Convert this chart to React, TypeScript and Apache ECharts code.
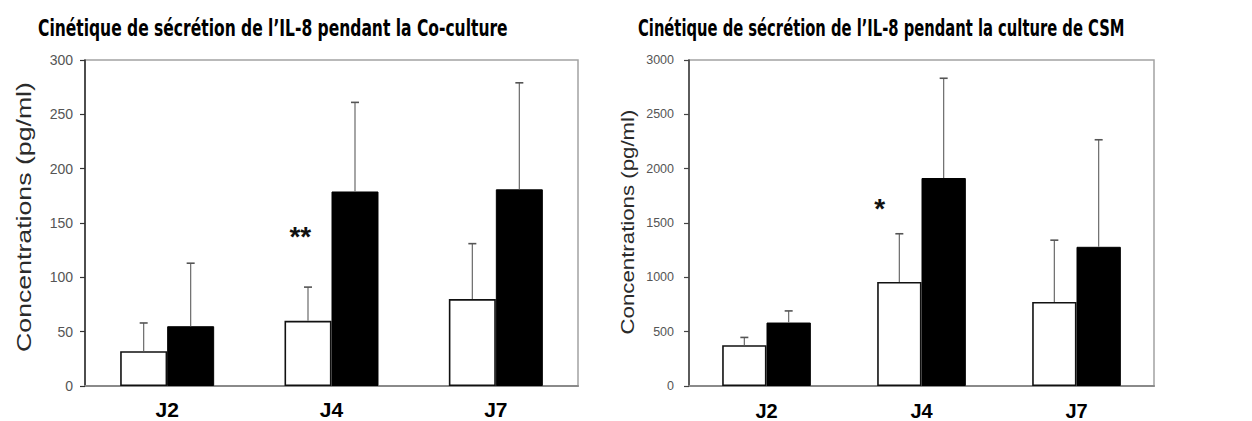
import React, { useEffect, useRef } from "react";
import * as echarts from "echarts";

const categories = ["J2", "J4", "J7"];

// Co-culture (pg/ml)
const coWhite = [32, 60, 80];
const coWhiteSD = [26, 31, 51];
const coBlack = [55, 179, 181];
const coBlackSD = [58, 82, 98];

// CSM culture (pg/ml)
const csmWhite = [376, 957, 773];
const csmWhiteSD = [71, 444, 569];
const csmBlack = [584, 1914, 1281];
const csmBlackSD = [107, 918, 985];

const leftTicks = { min: 0, max: 300, interval: 50 };
const rightTicks = { min: 0, max: 3000, interval: 500 };

const titleLeft = "Cinétique de sécrétion de l’IL-8 pendant la Co-culture";
const titleRight = "Cinétique de sécrétion de l’IL-8 pendant la culture de CSM";
const yName = "Concentrations (pg/ml)";

// significance marks: [category index, value level, text]
const leftMarks: [number, number, string][] = [[1, 142, "**"]];
const rightMarks: [number, number, string][] = [[1, 1680, "*"]];

const BAR_FRAC = 0.286;

function measure(text: string, font: string) {
  const c = document.createElement("canvas");
  const ctx = c.getContext("2d")!;
  ctx.font = font;
  return ctx.measureText(text).width;
}

function errData(vals: number[], sds: number[], side: number) {
  return vals.map((v, i) => [i, v, v + sds[i], side]);
}

function errRender(params: any, api: any) {
  const idx = api.value(0);
  const val = api.value(1);
  const top = api.value(2);
  const side = api.value(3);
  const catW = api.size([1, 0])[0];
  const bw = catW * BAR_FRAC;
  const base = api.coord([idx, val]);
  const x = base[0] + (side === 0 ? -bw / 2 : bw / 2);
  const yTop = api.coord([idx, top])[1];
  return {
    type: "group",
    children: [
      { type: "line", shape: { x1: x, y1: base[1], x2: x, y2: yTop }, style: { stroke: "#6a6a6a", lineWidth: 1.2 } },
      { type: "line", shape: { x1: x - 4, y1: yTop, x2: x + 4, y2: yTop }, style: { stroke: "#555", lineWidth: 1.6 } },
    ],
  };
}

function markRender(dxFrac: number, fontSize: number) {
  return (params: any, api: any) => {
    const idx = api.value(0);
    const val = api.value(1);
    const catW = api.size([1, 0])[0];
    const p = api.coord([idx, val]);
    return {
      type: "text",
      x: p[0] + dxFrac * catW,
      y: p[1] + fontSize * 0.18,
      style: {
        text: api.value(2) === 2 ? "**" : "*",
        fill: "#111",
        font: `bold ${fontSize}px 'Liberation Sans', Arial, sans-serif`,
        align: "center",
        verticalAlign: "middle",
      },
    };
  };
}

function buildAxis(gridIndex: number, ticks: { min: number; max: number; interval: number }, fontSize: number, lineColor: string) {
  return {
    type: "value",
    gridIndex,
    min: ticks.min,
    max: ticks.max,
    interval: ticks.interval,
    splitLine: { show: false },
    axisLine: { show: true, lineStyle: { color: lineColor, width: 1.6 } },
    axisTick: { show: true, inside: false, length: 5, lineStyle: { color: lineColor, width: 1.2 } },
    axisLabel: {
      color: "#555",
      fontSize,
      fontFamily: "'Liberation Sans', Arial, sans-serif",
      margin: gridIndex === 0 ? 12 : 15,
      formatter: (v: number) => String(v),
    },
  };
}

function buildX(gridIndex: number, fontSize: number, margin: number) {
  return {
    type: "category",
    gridIndex,
    data: categories,
    axisLine: { show: true, lineStyle: { color: "#8a8a8a", width: 2 } },
    axisTick: { show: false },
    axisLabel: {
      color: "#000",
      fontWeight: "bold",
      fontSize,
      fontFamily: "'Liberation Sans', Arial, sans-serif",
      margin,
    },
  };
}

export default function App() {
  const ref = useRef<HTMLDivElement>(null);
  useEffect(() => {
    if (!ref.current) return;
    const chart = echarts.init(ref.current, null, { renderer: "svg" });

    const titleFont = "bold 18px 'DejaVu Sans', Verdana, sans-serif";
    const tW = measure(titleLeft, titleFont);
    const tWR = measure(titleRight, titleFont);
    const nameFontL = "21px 'Liberation Sans', Arial, sans-serif";
    const nameFontR = "18px 'Liberation Sans', Arial, sans-serif";
    const nWL = measure(yName, nameFontL);
    const nWR = measure(yName, nameFontR);

    const whiteStyle = { color: "#fff", borderColor: "#111", borderWidth: 1.6 };
    const blackStyle = { color: "#000", borderColor: "#000", borderWidth: 1 };

    const mkMarkData = (marks: [number, number, string][]) => marks.map((m) => [m[0], m[1], m[2].length]);

    chart.setOption({
      animation: false,
      backgroundColor: "#fff",
      grid: [
        { left: 85, top: 60, width: 493, height: 326, show: true, borderColor: "#a3a3a3", borderWidth: 1.5, backgroundColor: "transparent" },
        { left: 689, top: 60, width: 465, height: 327, show: true, borderColor: "#a3a3a3", borderWidth: 1.5, backgroundColor: "transparent" },
      ],
      xAxis: [buildX(0, 21, 13), buildX(1, 20, 15)],
      yAxis: [buildAxis(0, leftTicks, 14, "#333"), buildAxis(1, rightTicks, 12.5, "#444")],
      graphic: [
        {
          type: "text",
          x: 38,
          y: 28,
          scaleX: 470 / tW,
          scaleY: 1.28,
          style: { text: titleLeft, font: titleFont, fill: "#000", align: "left", verticalAlign: "middle" },
        },
        {
          type: "text",
          x: 638,
          y: 28,
          scaleX: 487 / tWR,
          scaleY: 1.28,
          style: { text: titleRight, font: titleFont, fill: "#000", align: "left", verticalAlign: "middle" },
        },
        {
          type: "text",
          x: 24,
          y: 217,
          rotation: Math.PI / 2,
          scaleX: 270 / nWL,
          style: { text: yName, font: nameFontL, fill: "#2a2a2a", align: "center", verticalAlign: "middle" },
        },
        {
          type: "text",
          x: 628,
          y: 222,
          rotation: Math.PI / 2,
          scaleX: 225 / nWR,
          style: { text: yName, font: nameFontR, fill: "#2a2a2a", align: "center", verticalAlign: "middle" },
        },
      ],
      series: [
        { type: "bar", xAxisIndex: 0, yAxisIndex: 0, data: coWhite, barWidth: "28.6%", barGap: "0%", itemStyle: whiteStyle },
        { type: "bar", xAxisIndex: 0, yAxisIndex: 0, data: coBlack, barWidth: "28.6%", barGap: "0%", itemStyle: blackStyle },
        { type: "bar", xAxisIndex: 1, yAxisIndex: 1, data: csmWhite, barWidth: "28.6%", barGap: "0%", itemStyle: whiteStyle },
        { type: "bar", xAxisIndex: 1, yAxisIndex: 1, data: csmBlack, barWidth: "28.6%", barGap: "0%", itemStyle: blackStyle },
        { type: "custom", xAxisIndex: 0, yAxisIndex: 0, renderItem: errRender, data: errData(coWhite, coWhiteSD, 0), z: 3, encode: { x: 0, y: 2 } },
        { type: "custom", xAxisIndex: 0, yAxisIndex: 0, renderItem: errRender, data: errData(coBlack, coBlackSD, 1), z: 3, encode: { x: 0, y: 2 } },
        { type: "custom", xAxisIndex: 1, yAxisIndex: 1, renderItem: errRender, data: errData(csmWhite, csmWhiteSD, 0), z: 3, encode: { x: 0, y: 2 } },
        { type: "custom", xAxisIndex: 1, yAxisIndex: 1, renderItem: errRender, data: errData(csmBlack, csmBlackSD, 1), z: 3, encode: { x: 0, y: 2 } },
        { type: "custom", xAxisIndex: 0, yAxisIndex: 0, renderItem: markRender(-0.19, 28), data: mkMarkData(leftMarks), z: 4, encode: { x: 0, y: 1 } },
        { type: "custom", xAxisIndex: 1, yAxisIndex: 1, renderItem: markRender(-0.27, 28), data: mkMarkData(rightMarks), z: 4, encode: { x: 0, y: 1 } },
      ],
    });
    return () => chart.dispose();
  }, []);
  return <div ref={ref} style={{ position: "fixed", left: 0, top: 0, width: 1252, height: 421 }} />;
}
